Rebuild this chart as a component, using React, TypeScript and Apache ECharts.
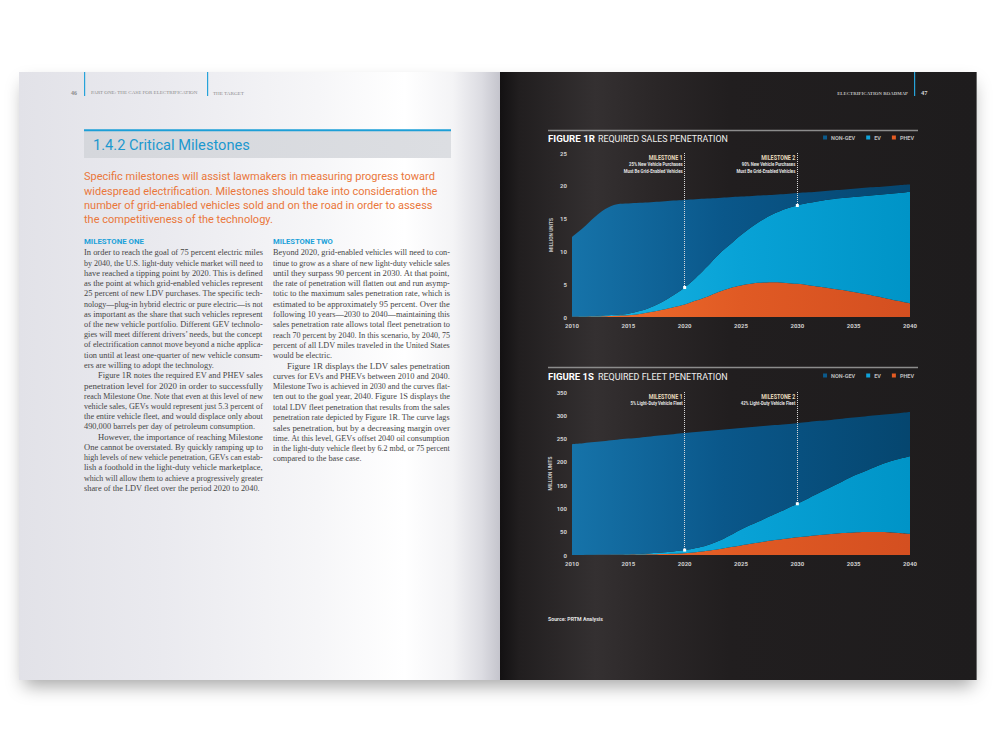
import React, { useEffect, useRef } from 'react';
import * as echarts from 'echarts';

// ---------------- DATA ----------------
const years = [
  2010, 2011, 2012, 2013, 2014, 2015, 2016, 2017, 2018, 2019, 2020,
  2021, 2022, 2023, 2024, 2025, 2026, 2027, 2028, 2029, 2030,
  2031, 2032, 2033, 2034, 2035, 2036, 2037, 2038, 2039, 2040,
];
const yearLabels = years.map(String);
const seriesNames = ['NON-GEV', 'EV', 'PHEV'];

// Figure 1R – required sales penetration (million units)
const salesPhev = [0.02, 0.05, 0.08, 0.12, 0.18, 0.25, 0.45, 0.75, 1.1, 1.5, 1.9, 2.5, 3.1, 3.8, 4.4, 4.8, 5.1, 5.25, 5.3, 5.2, 5.05, 4.85, 4.6, 4.35, 4.1, 3.8, 3.5, 3.15, 2.8, 2.45, 2.1];
const salesEv = [0.03, 0.05, 0.07, 0.13, 0.17, 0.25, 0.45, 0.75, 1.2, 1.8, 2.6, 3.5, 4.6, 5.7, 6.6, 7.7, 8.7, 9.65, 10.5, 11.3, 11.95, 12.55, 13.1, 13.6, 14.05, 14.5, 14.95, 15.45, 15.95, 16.45, 17.0];
const salesNonGev = [12.15, 13.5, 15.05, 16.25, 16.85, 16.8, 16.5, 16.0, 15.3, 14.45, 13.35, 11.95, 10.35, 8.65, 7.25, 5.85, 4.65, 3.65, 2.85, 2.25, 1.9, 1.6, 1.45, 1.35, 1.25, 1.25, 1.25, 1.2, 1.2, 1.2, 1.1];

// Figure 1S – required fleet penetration (million units)
const fleetPhev = [0.05, 0.1, 0.2, 0.3, 0.5, 0.7, 1.0, 1.5, 2.1, 2.9, 4, 6, 9, 12.5, 16.5, 20.5, 24.5, 28.5, 32, 35, 38, 40.5, 43, 45, 47, 48.5, 49.5, 49.5, 49, 47.5, 45.5];
const fleetEv = [0.05, 0.1, 0.2, 0.4, 0.6, 0.9, 1.4, 2.1, 3.1, 4.6, 6.5, 9, 12, 17.5, 25.5, 34.5, 41.5, 48.5, 56, 64, 72, 81.5, 91, 101, 111, 121.5, 130.5, 140.5, 150, 158.5, 166.5];
const fleetNonGev = [237.9, 239.8, 242.1, 244.3, 246.4, 248.4, 249.6, 250.9, 251.8, 252, 251.5, 249, 245.5, 238.5, 228.5, 217.5, 209, 200, 191, 182, 173, 163.5, 154, 144, 134.5, 125, 117.5, 110, 103, 98.5, 95];

const salesAxis = { max: 25, interval: 5 };
const fleetAxis = { max: 350, interval: 50 };

const salesMilestones = [
  { year: '2020', value: 4.5, title: 'MILESTONE 1', notes: ['25% New Vehicle Purchases', 'Must Be Grid-Enabled Vehicles'] },
  { year: '2030', value: 17.0, title: 'MILESTONE 2', notes: ['90% New Vehicle Purchases', 'Must Be Grid-Enabled Vehicles'] },
];
const fleetMilestones = [
  { year: '2020', value: 10.5, title: 'MILESTONE 1', notes: ['5% Light-Duty Vehicle Fleet'] },
  { year: '2030', value: 110, title: 'MILESTONE 2', notes: ['42% Light-Duty Vehicle Fleet'] },
];

const introLines = [
  'Specific milestones will assist lawmakers in measuring progress toward',
  'widespread electrification. Milestones should take into consideration the',
  'number of grid-enabled vehicles sold and on the road in order to assess',
  'the competitiveness of the technology.',
];

const col1Paragraphs = [
  [
    'In order to reach the goal of 75 percent electric miles',
    'by 2040, the U.S. light-duty vehicle market will need to',
    'have reached a tipping point by 2020. This is defined',
    'as the point at which grid-enabled vehicles represent',
    '25 percent of new LDV purchases. The specific tech-',
    'nology\u2014plug-in hybrid electric or pure electric\u2014is not',
    'as important as the share that such vehicles represent',
    'of the new vehicle portfolio. Different GEV technolo-',
    'gies will meet different drivers\u2019 needs, but the concept',
    'of electrification cannot move beyond a niche applica-',
    'tion until at least one-quarter of new vehicle consum-',
    'ers are willing to adopt the technology.',
  ],
  [
    'Figure 1R notes the required EV and PHEV sales',
    'penetration level for 2020 in order to successfully',
    'reach Milestone One. Note that even at this level of new',
    'vehicle sales, GEVs would represent just 5.3 percent of',
    'the entire vehicle fleet, and would displace only about',
    '490,000 barrels per day of petroleum consumption.',
  ],
  [
    'However, the importance of reaching Milestone',
    'One cannot be overstated. By quickly ramping up to',
    'high levels of new vehicle penetration, GEVs can estab-',
    'lish a foothold in the light-duty vehicle marketplace,',
    'which will allow them to achieve a progressively greater',
    'share of the LDV fleet over the period 2020 to 2040.',
  ],
];

const col2Paragraphs = [
  [
    'Beyond 2020, grid-enabled vehicles will need to con-',
    'tinue to grow as a share of new light-duty vehicle sales',
    'until they surpass 90 percent in 2030. At that point,',
    'the rate of penetration will flatten out and run asymp-',
    'totic to the maximum sales penetration rate, which is',
    'estimated to be approximately 95 percent. Over the',
    'following 10 years\u20142030 to 2040\u2014maintaining this',
    'sales penetration rate allows total fleet penetration to',
    'reach 70 percent by 2040. In this scenario, by 2040, 75',
    'percent of all LDV miles traveled in the United States',
    'would be electric.',
  ],
  [
    'Figure 1R displays the LDV sales penetration',
    'curves for EVs and PHEVs between 2010 and 2040.',
    'Milestone Two is achieved in 2030 and the curves flat-',
    'ten out to the goal year, 2040. Figure 1S displays the',
    'total LDV fleet penetration that results from the sales',
    'penetration rate depicted by Figure 1R. The curve lags',
    'sales penetration, but by a decreasing margin over',
    'time. At this level, GEVs offset 2040 oil consumption',
    'in the light-duty vehicle fleet by 6.2 mbd, or 75 percent',
    'compared to the base case.',
  ],
];

// ---------------- HELPERS ----------------
const SANS = 'Roboto, "Noto Sans", sans-serif';
const SERIF = '"Liberation Serif", "DejaVu Serif", serif';

let measureCtx: CanvasRenderingContext2D | null = null;
function measure(text: string, size: number, family: string, weight = 'normal') {
  if (!measureCtx) measureCtx = document.createElement('canvas').getContext('2d');
  if (!measureCtx) return text.length * size * 0.5;
  measureCtx.font = `${weight} ${size}px ${family}`;
  return measureCtx.measureText(text).width;
}

type TOpt = { size: number; family: string; weight?: string; color: string; align?: string; width?: number; scaleX?: number };
function txt(text: string, x: number, y: number, o: TOpt) {
  let sx = o.scaleX ?? 1;
  if (o.width) sx = o.width / measure(text, o.size, o.family, o.weight || 'normal');
  const align = o.align || 'left';
  return {
    type: 'text', x, y, scaleX: sx, scaleY: 1, z: 20, silent: true,
    style: {
      text, fill: o.color, fontSize: o.size, fontFamily: o.family, fontWeight: o.weight || 'normal',
      textAlign: align, align, textVerticalAlign: 'middle', verticalAlign: 'middle',
    },
  };
}

function lin(stops: [number, string][]) {
  return { type: 'linear', x: 0, y: 0, x2: 1, y2: 0, colorStops: stops.map(([offset, color]) => ({ offset, color })) };
}

const nonGevFill = () => lin([[0, '#1673a9'], [0.45, '#0a578a'], [1, '#05466f']]);
const evFill = () => lin([[0, '#1cb7e5'], [0.5, '#08a2d6'], [1, '#0094c7']]);
const phevFill = () => lin([[0, '#f3702d'], [0.5, '#e05a24'], [1, '#d44f20']]);
const legendColors: Record<string, string> = { 'NON-GEV': '#0b5a8c', EV: '#0fa2da', PHEV: '#e55b22' };

function areaSeries(name: string, values: number[], idx: number, fill: any, stack: string) {
  return {
    type: 'line', name, xAxisIndex: idx, yAxisIndex: idx, stack,
    data: values,
    smooth: 0.4, showSymbol: false, symbol: 'none', silent: true,
    lineStyle: { width: 0 },
    itemStyle: { color: legendColors[name] },
    areaStyle: { color: fill, opacity: 1 },
    z: 2,
  };
}

function milestoneMarkers(ms: { year: string; value: number }[], top: number) {
  return {
    markLine: {
      silent: true, symbol: ['none', 'none'], label: { show: false },
      lineStyle: { type: 'dotted', color: '#d8d8d8', width: 1, opacity: 1 },
      emphasis: { disabled: true },
      data: ms.map((m) => [{ coord: [m.year, top] }, { coord: [m.year, m.value] }]),
    },
    markPoint: {
      silent: true, symbol: 'rect', symbolSize: 3, label: { show: false },
      itemStyle: { color: '#ffffff' },
      data: ms.map((m) => ({ coord: [m.year, m.value] })),
    },
  };
}

const axisLabelStyle = { color: '#cfcfcf', fontSize: 6, fontWeight: 'bold', fontFamily: SANS };

function xAxis(gridIndex: number) {
  return {
    type: 'category', gridIndex, data: yearLabels, boundaryGap: false,
    axisLine: { show: false }, axisTick: { show: false }, splitLine: { show: false },
    axisLabel: { ...axisLabelStyle, margin: 5, interval: 4 },
  };
}
function yAxis(gridIndex: number, ax: { max: number; interval: number }) {
  return {
    type: 'value', gridIndex, min: 0, max: ax.max, interval: ax.interval,
    axisLine: { show: false }, axisTick: { show: false }, splitLine: { show: false },
    axisLabel: { ...axisLabelStyle, margin: 5 },
    name: 'MILLION UNITS', nameLocation: 'middle', nameGap: 18, nameRotate: 90,
    nameTextStyle: { color: '#c8c8c8', fontSize: 4.8, fontWeight: 'bold', fontFamily: SANS },
  };
}
function legend(top: number) {
  return {
    data: seriesNames, top, right: 86, icon: 'rect', itemWidth: 4, itemHeight: 4,
    itemGap: 11, padding: 0, selectedMode: false,
    textStyle: { color: '#bdbdbd', fontSize: 5.5, fontWeight: 'bold', fontFamily: SANS, padding: [0, 0, 0, -1] },
  };
}

function buildOption() {
  const s1 = areaSeries('NON-GEV', salesNonGev, 0, nonGevFill(), 'sales');
  Object.assign(s1, milestoneMarkers(salesMilestones, salesAxis.max));
  const s2 = areaSeries('NON-GEV', fleetNonGev, 1, nonGevFill(), 'fleet');
  Object.assign(s2, milestoneMarkers(fleetMilestones, fleetAxis.max));
  return {
    animation: false,
    backgroundColor: '#ffffff',
    grid: [
      { left: 572, top: 153, width: 338, height: 164 },
      { left: 572, top: 392, width: 338, height: 163 },
    ],
    xAxis: [xAxis(0), xAxis(1)],
    yAxis: [yAxis(0, salesAxis), yAxis(1, fleetAxis)],
    legend: [legend(134.5), legend(372.5)],
    series: [
      areaSeries('PHEV', salesPhev, 0, phevFill(), 'sales'),
      areaSeries('EV', salesEv, 0, evFill(), 'sales'),
      s1,
      areaSeries('PHEV', fleetPhev, 1, phevFill(), 'fleet'),
      areaSeries('EV', fleetEv, 1, evFill(), 'fleet'),
      s2,
    ],
  };
}

function bodyColumn(paragraphs: string[][], x: number, y0: number, width: number, step: number) {
  const size = 8.1;
  const indent = 14;
  const items: any[] = [];
  const fitted: number[] = [];
  paragraphs.forEach((p, pi) => p.forEach((line, li) => {
    const ind = pi > 0 && li === 0 ? indent : 0;
    if (li < p.length - 1) fitted.push((width - ind) / measure(line, size, SERIF));
  }));
  const sorted = [...fitted].sort((a, b) => a - b);
  const base = sorted[Math.floor(sorted.length / 2)] || 1;
  let row = 0;
  paragraphs.forEach((p, pi) => p.forEach((line, li) => {
    const ind = pi > 0 && li === 0 ? indent : 0;
    const w = measure(line, size, SERIF);
    const sx = li < p.length - 1 ? (width - ind) / w : Math.min(base, (width - ind) / w);
    items.push(txt(line, x + ind, y0 + row * step, { size, family: SERIF, color: '#454545', scaleX: sx }));
    row++;
  }));
  return items;
}

function buildGraphics(chart: any) {
  const els: any[] = [];
  // book shadow and pages
  els.push({ type: 'rect', z: 0, silent: true, shape: { x: 24, y: 76, width: 949, height: 602 },
    style: { fill: '#cfcfcf', shadowBlur: 18, shadowOffsetY: 8, shadowColor: 'rgba(0,0,0,0.35)' } });
  els.push({ type: 'rect', z: 0, silent: true, shape: { x: 19, y: 72, width: 482, height: 608 },
    style: { fill: lin([[0, '#e2e2e8'], [0.3, '#eaeaef'], [0.62, '#f6f6f8'], [0.8, '#ffffff'], [0.9, '#f4f4f6'], [0.96, '#dcdce2'], [1, '#c3c3cb']]) } });
  els.push({ type: 'rect', z: 0, silent: true, shape: { x: 500, y: 72, width: 477, height: 608 },
    style: { fill: lin([[0, '#131112'], [0.04, '#211e1f'], [0.2, '#343031'], [0.33, '#2a2627'], [0.48, '#211e1f'], [1, '#1e1c1d']]) } });
  els.push({ type: 'line', z: 1, silent: true, shape: { x1: 976.5, y1: 72, x2: 976.5, y2: 680 }, style: { stroke: '#6a6a6a', lineWidth: 1 } });

  // left page header
  const blue = '#26a3da';
  els.push({ type: 'rect', z: 1, silent: true, shape: { x: 84, y: 72, width: 1.2, height: 24 }, style: { fill: blue } });
  els.push({ type: 'rect', z: 1, silent: true, shape: { x: 207, y: 72, width: 1.2, height: 24 }, style: { fill: blue } });
  els.push(txt('46', 71, 93, { size: 5.6, family: SERIF, weight: 'bold', color: '#8a8a8a', width: 6 }));
  els.push(txt('PART ONE: THE CASE FOR ELECTRIFICATION', 91, 93, { size: 5, family: SERIF, color: '#8a8a8a', width: 107 }));
  els.push(txt('THE TARGET', 213, 93, { size: 5, family: SERIF, color: '#8a8a8a', width: 31 }));

  // right page header
  els.push({ type: 'rect', z: 1, silent: true, shape: { x: 914, y: 72, width: 1.2, height: 24 }, style: { fill: blue } });
  els.push(txt('ELECTRIFICATION ROADMAP', 908, 93, { size: 5, family: SERIF, weight: 'bold', color: '#bdbdbd', width: 71, align: 'right' }));
  els.push(txt('47', 921, 93, { size: 5.6, family: SERIF, weight: 'bold', color: '#d8d8d8', width: 6.5 }));

  // section title bar
  els.push({ type: 'rect', z: 1, silent: true, shape: { x: 84, y: 131, width: 367, height: 27 },
    style: { fill: lin([[0, '#d5d7dc'], [1, '#dcdee2']]) } });
  els.push({ type: 'rect', z: 1, silent: true, shape: { x: 84, y: 129.3, width: 367, height: 2 }, style: { fill: '#1d9fd7' } });
  els.push(txt('1.4.2 Critical Milestones', 93, 145, { size: 14.5, family: SANS, color: '#1c98cf', width: 157 }));

  // orange intro
  const introSize = 10.6;
  const introScale = 351 / measure(introLines[0], introSize, SANS);
  introLines.forEach((l, i) => els.push(txt(l, 84, 177 + i * 14.35, { size: introSize, family: SANS, color: '#ea773b', scaleX: introScale })));

  // columns
  els.push(txt('MILESTONE ONE', 84, 242, { size: 7.4, family: SANS, weight: 'bold', color: '#1ca1d9', width: 60 }));
  els.push(txt('MILESTONE TWO', 273, 242, { size: 7.4, family: SANS, weight: 'bold', color: '#1ca1d9', width: 60 }));
  els.push(...bodyColumn(col1Paragraphs, 84, 252.8, 179, 10.24));
  els.push(...bodyColumn(col2Paragraphs, 273, 252.8, 177, 10.3));

  // chart titles
  const titleRule = (y: number) => ({ type: 'line', z: 5, silent: true, shape: { x1: 548, y1: y, x2: 918, y2: y }, style: { stroke: '#8c8c8c', lineWidth: 1.5 } });
  els.push(titleRule(130.5));
  els.push(txt('FIGURE 1R', 548, 138.3, { size: 9.5, family: SANS, weight: 'bold', color: '#ffffff', width: 47 }));
  els.push(txt('REQUIRED SALES PENETRATION', 598, 138.3, { size: 9.5, family: SANS, color: '#efefef', width: 130 }));
  els.push(titleRule(367.5));
  els.push(txt('FIGURE 1S', 548, 376.3, { size: 9.5, family: SANS, weight: 'bold', color: '#ffffff', width: 46 }));
  els.push(txt('REQUIRED FLEET PENETRATION', 598, 376.3, { size: 9.5, family: SANS, color: '#efefef', width: 130 }));
  els.push(txt('Source: PRTM Analysis', 548, 619, { size: 6, family: SANS, weight: 'bold', color: '#e2e2e2', width: 55 }));

  // milestone annotations (positioned through the chart's own axes)
  const noteSize = 4.6;
  const noteScale = 59 / measure('Must Be Grid-Enabled Vehicles', noteSize, SANS, 'bold');
  const titleScale = 34 / measure('MILESTONE 1', 7.2, SANS, 'bold');
  const annotate = (ms: typeof salesMilestones, idx: number, top: number) => {
    ms.forEach((m) => {
      const p = chart.convertToPixel({ xAxisIndex: idx, yAxisIndex: idx }, [m.year, top]);
      const x = p[0] - 2;
      const y = p[1];
      els.push(txt(m.title, x, y + 5, { size: 7.2, family: SANS, weight: 'bold', color: '#e6d9bc', align: 'right', scaleX: titleScale }));
      m.notes.forEach((n, i) => els.push(txt(n, x, y + 11.6 + i * 7.2, { size: noteSize, family: SANS, weight: 'bold', color: '#e2e2e2', align: 'right', scaleX: noteScale })));
    });
  };
  annotate(salesMilestones, 0, salesAxis.max);
  annotate(fleetMilestones, 1, fleetAxis.max);
  return els;
}

export default function App() {
  const ref = useRef<HTMLDivElement>(null);
  useEffect(() => {
    if (!ref.current) return;
    const chart = echarts.init(ref.current, null, { renderer: 'svg' });
    chart.setOption(buildOption() as any);
    chart.setOption({ graphic: { elements: buildGraphics(chart) } } as any);
    return () => chart.dispose();
  }, []);
  return <div ref={ref} style={{ position: 'fixed', left: 0, top: 0, width: 1000, height: 750 }} />;
}
